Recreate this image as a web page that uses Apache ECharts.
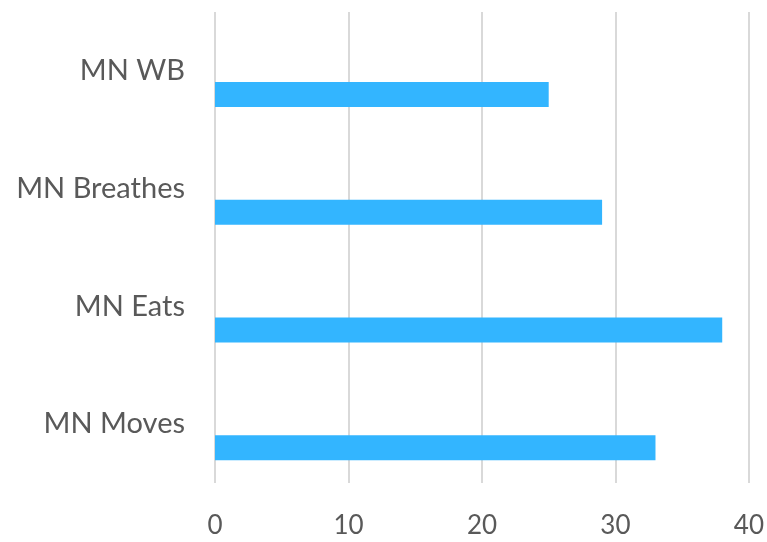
<!DOCTYPE html>
<html><head><meta charset="utf-8">
<script src="https://cdn.jsdelivr.net/npm/echarts@6/dist/echarts.min.js"></script>
<style>html,body{margin:0;padding:0;background:#fff}#c{width:767px;height:542px}</style>
</head><body><div id="c"></div>
<script>
const categories = ['MN Moves', 'MN Eats', 'MN Breathes', 'MN WB'];
const values = [33, 38, 29, 25];
const xTicks = [0, 10, 20, 30, 40];

const chart = echarts.init(document.getElementById('c'));
chart.setOption({
  animation: false,
  grid: { left: 215, right: 18, top: 12, bottom: 59, containLabel: false },
  xAxis: {
    type: 'value', min: xTicks[0], max: xTicks[xTicks.length - 1], interval: 10,
    axisLine: { show: false }, axisTick: { show: false },
    splitLine: { lineStyle: { color: '#d9d9d9', width: 2 } },
    axisLabel: { color: '#595959', fontSize: 26, fontFamily: 'Lato', margin: 30 }
  },
  yAxis: {
    type: 'category', data: categories,
    axisLine: { show: false }, axisTick: { show: false },
    axisLabel: { color: '#595959', fontSize: 29, fontFamily: 'Lato', margin: 30 }
  },
  series: [
    { type: 'bar', data: categories.map(() => null), barWidth: 25, barGap: '88%' },
    { type: 'bar', data: values, barWidth: 25, barGap: '88%', itemStyle: { color: '#33b5ff' } }
  ]
});
</script></body></html>
